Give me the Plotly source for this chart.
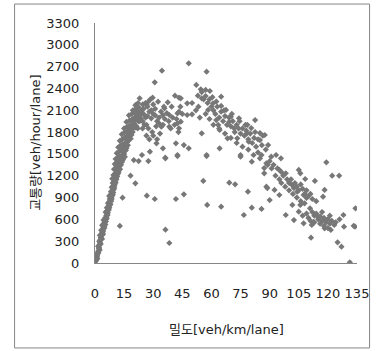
import plotly.graph_objects as go

# Density (veh/km/lane) and flow (veh/hour/lane)
density = [
    # free-flow branch
    0.3, 0.5, 0.8, 1.0, 1.2, 1.5, 1.8, 2.0, 1.6, 2.3, 2.6, 2.2,
    2.8, 3.0, 2.5, 3.4, 3.8, 3.2, 4.0, 4.3, 3.7, 4.6, 5.0, 4.4, 5.5,
    5.2, 5.8, 6.0, 5.5, 6.3, 6.8, 6.1, 7.0, 7.5, 6.7, 7.2, 8.0, 7.6, 8.4,
    7.3, 8.0, 8.8, 8.2, 9.0, 9.5, 8.6, 9.3, 10.0, 9.1, 9.8, 10.5, 8.9, 10.2, 11.0,
    9.5, 10.4, 11.3, 12.0, 9.8, 10.8, 11.6, 12.5, 10.2, 11.2, 12.2, 13.2, 10.6, 11.8, 12.8, 14.0, 15.0,
    11.2, 12.4, 13.5, 14.5, 12.0, 13.0, 14.2, 15.5, 16.5, 12.8, 14.0, 15.2, 16.4, 17.5, 13.8, 15.0, 16.2,
    17.4, 18.5, 15.0, 16.4, 17.6, 19.0, 20.2, 16.2, 17.8, 19.2, 20.5, 21.8, 17.5, 19.0, 20.5, 22.0, 19.5, 21.0, 22.5, 20.8, 22.2,
    1.2, 2.4, 3.6, 4.8, 6.0, 7.4, 8.6, 9.6, 10.6, 11.6, 12.6, 13.6, 14.6, 15.8, 16.8, 18.0, 19.0, 20.0,
    0.6, 1.4, 2.9, 4.1, 5.3, 6.5, 7.8, 9.2, 10.0, 11.0, 12.0, 13.0, 14.0, 15.0, 16.0, 17.0, 18.2, 19.6, 21.2,
    0.9, 1.7, 2.1, 2.7, 3.3, 3.9, 4.2, 4.9, 5.6, 5.9, 6.6, 7.1, 7.9, 8.3, 8.7, 9.4, 9.9, 10.3,
    10.9, 11.4, 12.1, 12.9, 13.4, 13.9, 14.4, 15.4, 15.9, 16.2, 16.9, 17.2, 18.4, 18.8, 19.4,
    20.6, 21.4, 22.4, 23.4, 21.6, 23.8, 24.6,
    # scattered points around the free-flow branch
    20.0, 22.5, 27.5, 36.3, 42.5, 18.3, 20.8, 14.2, 26.7, 30.8, 41.7, 12.8, 36.3, 38.3,
    # peak region
    34.5, 30.8, 23.0, 29.7, 41.2, 43.3, 32.5, 26.7, 35.8, 38.3, 42.5, 34.2, 38.3, 42.5,
    31.7, 28.3, 35.0, 41.7, 42.5, 36.2, 24.2,
    24.0, 25.0, 26.0, 27.0, 28.0, 29.0, 30.0, 31.0, 32.0, 33.0, 34.0, 35.0, 36.0, 37.0, 38.0,
    39.0, 40.0, 41.0, 42.0, 43.0, 25.5, 27.5, 29.5, 31.5, 33.5, 26.0, 28.5, 30.0, 23.0, 24.5,
    26.5, 28.0, 30.0, 32.0, 22.0, 23.5, 35.5, 37.5, 39.5, 44.0, 45.0,
    24.5, 26.5, 27.0, 29.0, 31.0, 33.0, 35.0, 25.0, 27.5, 22.8,
    # congested branch
    48.3, 57.5, 52.2, 54.5, 59.2, 57.0, 65.0, 44.2, 55.0, 47.5, 53.3, 60.8, 65.0, 58.3, 67.5,
    43.3, 50.0, 47.5, 62.5, 63.5, 70.0, 74.2, 69.2, 82.5, 77.5, 80.5, 71.7, 64.2, 78.3, 85.0,
    87.5, 55.0, 44.2, 43.3, 73.3, 79.2, 85.0, 45.8, 48.3, 57.5, 75.0, 81.7, 85.8, 64.2, 68.3,
    56.0, 58.0, 59.0, 60.0, 61.0, 62.0, 63.0, 64.0, 65.0, 66.0, 67.0, 68.0, 69.0, 70.0, 71.0,
    72.0, 73.0, 74.0, 75.0, 76.0, 77.0, 78.0, 79.0, 80.0, 81.0, 82.0, 83.0, 84.0, 86.0, 88.0,
    60.5, 62.5, 66.5, 70.5, 74.5, 78.5, 82.5, 86.5, 57.0, 59.0, 61.0, 64.0, 67.0, 70.0, 73.0,
    76.0, 79.0, 84.0, 53.0, 55.0, 57.0, 50.0, 52.0, 54.0,
    57.5, 75.0, 80.8, 85.0, 87.2, 87.2, 55.8, 69.2, 72.2, 45.8, 78.8, 88.8, 57.8, 65.0, 80.8,
    85.8, 76.7,
    89.2, 93.3, 90.8, 95.8,
    # falling branch
    88.3, 119.2, 95.0, 98.3, 105.0, 105.8, 122.2, 125.8, 108.3, 113.3, 101.5, 102.5, 88.3,
    118.3, 92.5, 95.0, 104.2, 107.5, 109.0, 90.0, 117.5, 101.7, 105.8, 110.8, 134.2, 98.3,
    105.0, 102.5, 115.0, 119.0, 112.5, 128.0, 107.5, 111.7, 118.3, 121.5, 123.3, 128.3,
    133.3, 111.3, 125.0, 127.0, 131.3, 134.0,
    90.0, 92.0, 94.0, 96.0, 97.0, 99.0, 100.0, 101.0, 103.0, 104.0, 105.0, 106.0, 107.0,
    108.0, 109.0, 110.0, 96.0, 98.0, 100.0, 102.0, 104.0, 93.0, 95.0, 91.0, 89.0, 106.0,
    108.0, 112.0, 114.0, 111.0,
    112.0, 113.0, 114.0, 115.0, 116.0, 117.0, 118.0, 119.0, 120.0, 121.0, 122.0, 110.0,
    111.0, 113.0, 116.0, 118.0, 120.0, 124.0, 126.0, 109.0, 107.0, 117.0, 121.0,
]

flow = [
    20, 40, 60, 90, 110, 150, 170, 200, 230, 250, 280, 300,
    320, 350, 380, 400, 420, 450, 470, 500, 520, 540, 560, 590, 600,
    620, 650, 680, 700, 720, 740, 760, 780, 800, 820, 840, 860, 880, 900,
    920, 940, 960, 980, 1000, 1020, 1040, 1060, 1080, 1100, 1120, 1140, 1160, 1180, 1200,
    1210, 1230, 1250, 1270, 1290, 1300, 1320, 1340, 1360, 1380, 1400, 1410, 1430, 1450, 1470, 1480, 1500,
    1510, 1530, 1550, 1570, 1590, 1610, 1630, 1650, 1660, 1680, 1700, 1720, 1740, 1750, 1770, 1790, 1800,
    1820, 1830, 1850, 1870, 1890, 1900, 1920, 1940, 1960, 1980, 2000, 2010, 2030, 2050, 2070, 2080, 2100, 2120, 2140, 2170, 2200,
    60, 180, 330, 480, 610, 760, 880, 1010, 1110, 1220, 1330, 1440, 1530, 1600, 1700, 1780, 1850, 1960,
    50, 130, 260, 400, 530, 660, 800, 940, 1060, 1150, 1260, 1360, 1460, 1560, 1640, 1720, 1840, 1930, 2050,
    70, 140, 210, 260, 340, 390, 440, 510, 570, 630, 690, 730, 810, 850, 920, 970, 1030, 1090,
    1170, 1190, 1240, 1290, 1350, 1390, 1420, 1460, 1550, 1580, 1620, 1680, 1710, 1760, 1800,
    1860, 1880, 1950, 1990, 1980, 2080, 2180,
    1416, 1402, 1402, 1439, 1471, 1201, 1096, 898, 926, 880, 880, 509, 458, 275,
    2644, 2484, 2264, 2273, 2300, 2273, 2218, 2172, 2127, 2035, 2058, 1874, 1874, 1921,
    1646, 1531, 1577, 1646, 1485, 1448, 1485,
    2100, 2050, 2000, 2150, 2080, 1990, 2050, 2120, 1950, 2000, 2080, 1900, 1980, 2060, 1950,
    1850, 2000, 1900, 1980, 1800, 1900, 1850, 1800, 1880, 1780, 2200, 2250, 2180, 1950, 1850,
    1750, 1700, 1750, 1700, 1850, 2030, 2150, 2210, 2150, 2150, 2050,
    1950, 1900, 2020, 2100, 2030, 1920, 2030, 2120, 2220, 2060,
    2746, 2631, 2448, 2388, 2365, 2296, 2287, 2264, 2264, 2196, 2150, 2196, 2159, 2104, 2104,
    2081, 2045, 2035, 1966, 1898, 2012, 1989, 1943, 1966, 1898, 1856, 1852, 1829, 1783, 1787,
    1760, 1783, 1943, 1852, 1715, 1668, 1691, 1622, 1577, 1485, 1485, 1485, 1485, 1577, 1715,
    2250, 2200, 2250, 2150, 2100, 2050, 2150, 2000, 2080, 1950, 2020, 1900, 2000, 1880, 1950,
    1800, 1900, 1850, 1780, 1850, 1750, 1820, 1700, 1780, 1650, 1720, 1600, 1700, 1620, 1560,
    2280, 2220, 2100, 2050, 1950, 1900, 1800, 1750, 2050, 1980, 1900, 1850, 1780, 1720, 1650,
    1600, 1560, 1520, 2300, 2350, 2380, 2200, 2100, 2000,
    1471, 1462, 1393, 1439, 1306, 1233, 1128, 1104, 1082, 945, 981, 1031, 798, 774, 761,
    743, 660,
    1622, 1485, 1462, 1439,
    1371, 1384, 1279, 1233, 1279, 1233, 1201, 1201, 1155, 1128, 1073, 1031, 1049,
    1004, 1004, 935, 981, 935, 894, 866, 912, 798, 798, 752, 752, 660,
    706, 591, 633, 591, 564, 660, 546, 523, 477, 454, 523, 500,
    512, 348, 284, 225, 10, 500,
    1400, 1350, 1300, 1250, 1200, 1150, 1100, 1150, 1100, 1050, 1000, 1080, 1020,
    950, 1000, 920, 1100, 1050, 1000, 950, 900, 1200, 1150, 1300, 1350, 850,
    820, 880, 850, 950,
    700, 650, 680, 600, 640, 580, 620, 560, 600, 540, 580, 620,
    580, 560, 540, 510, 480, 560, 600, 680, 650, 700, 650,
]

x_ticks = [0, 15, 30, 45, 60, 75, 90, 105, 120, 135]
y_ticks = [0, 300, 600, 900, 1200, 1500, 1800, 2100, 2400, 2700, 3000, 3300]

x_title = "밀도[veh/km/lane]"
y_title = "교통량[veh/hour/lane]"

FONT = "DejaVu Sans, Noto Sans CJK KR, sans-serif"
AXIS_COLOR = "#868686"

fig = go.Figure()
fig.add_trace(go.Scatter(
    x=density, y=flow, mode="markers",
    marker=dict(symbol="diamond", size=4.8, color="#777777", line=dict(width=0)),
    showlegend=False, hoverinfo="skip",
))

fig.update_layout(
    width=381, height=351,
    margin=dict(l=95, r=16, t=23, b=88),
    paper_bgcolor="white", plot_bgcolor="white",
    font=dict(family=FONT, size=13, color="#222222"),
    xaxis=dict(
        range=[0, 135], tickmode="array", tickvals=x_ticks,
        ticktext=[str(v) for v in x_ticks],
        showgrid=False, zeroline=False, showline=True, linecolor=AXIS_COLOR, linewidth=1,
        ticks="", ticklabelstandoff=18, fixedrange=True,
    ),
    yaxis=dict(
        range=[0, 3300], tickmode="array", tickvals=y_ticks,
        ticktext=[str(v) for v in y_ticks],
        showgrid=False, zeroline=False, showline=True, linecolor=AXIS_COLOR, linewidth=1,
        ticks="", ticklabelstandoff=12, fixedrange=True,
    ),
    annotations=[
        dict(text=x_title, xref="paper", yref="paper", x=0.5, y=-0.279,
             showarrow=False, xanchor="center", yanchor="middle",
             font=dict(family=FONT, size=13, color="#222222")),
        dict(text=y_title, xref="paper", yref="paper", x=-0.2296, y=0.5,
             showarrow=False, xanchor="center", yanchor="middle", textangle=-90,
             font=dict(family=FONT, size=13, color="#222222")),
    ],
    shapes=[
        dict(type="rect", xref="paper", yref="paper",
             x0=-0.307, x1=1.048, y0=-0.354, y1=1.079,
             line=dict(color=AXIS_COLOR, width=1), fillcolor="rgba(0,0,0,0)", layer="above"),
    ],
)

fig.write_html(
    "out.html",
    config={"displayModeBar": False},
    post_script="document.body.style.margin='0';document.body.style.padding='0';",
)
